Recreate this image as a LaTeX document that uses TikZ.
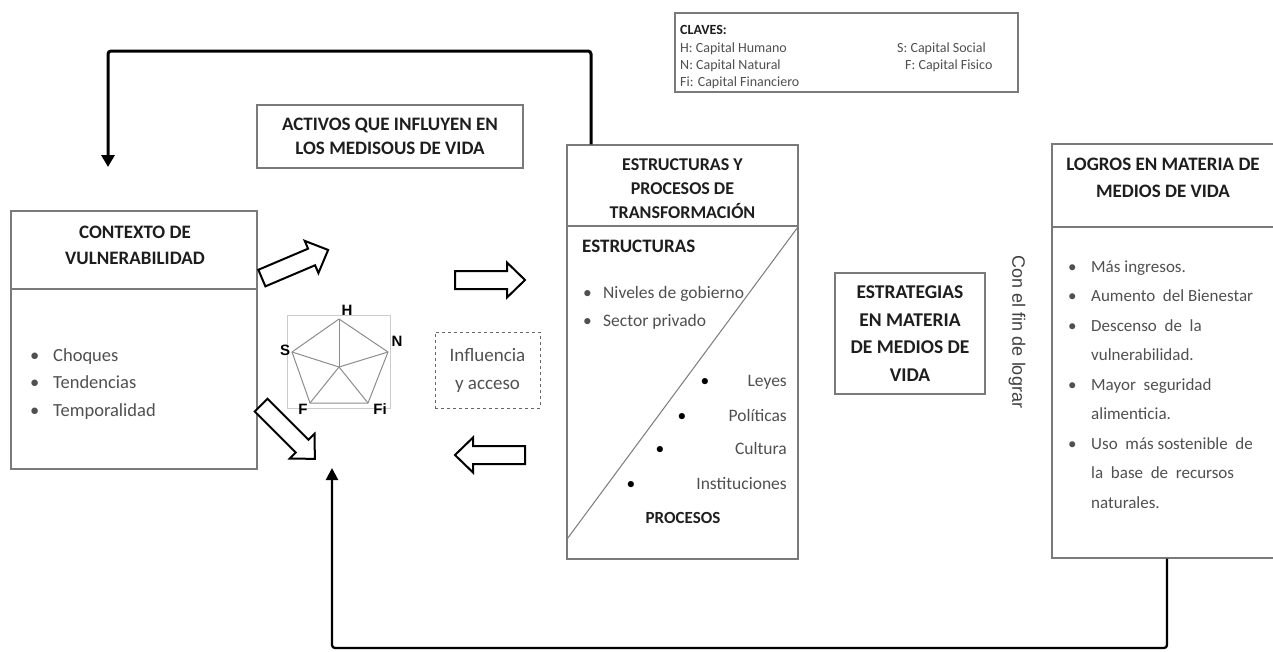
\documentclass[tikz,border=0pt]{standalone}
\usepackage{fontspec}
\setmainfont{Carlito}
\newfontfamily\arialf{Liberation Sans}
\usetikzlibrary{arrows.meta,calc}
\definecolor{boxgray}{HTML}{7A7A7A}
\definecolor{txtdark}{HTML}{1E1E1E}
\definecolor{txtgray}{HTML}{505050}
\newcommand\bl{\makebox[23pt][l]{\textbullet}}
\newcommand\blb{\makebox[20pt][l]{\textbullet}}
\begin{document}
\begin{tikzpicture}[x=1pt,y=-1pt,
  box/.style={draw=boxgray, line width=1.3pt, fill=white, inner sep=0pt},
  boxline/.style={draw=boxgray, line width=1.3pt},
  ttl/.style={font=\fontsize{19}{24}\selectfont\bfseries, text=txtdark, align=center},
  bodyt/.style={font=\fontsize{18.5}{27.5}\selectfont, text=txtgray},
  blkst/.style={draw=black, line width=2pt, fill=white, line join=miter},
  pics/blockarr/.style={code={
    \path[blkst] (-#1,-9) -- ({#1-18},-9) -- ({#1-18},-17.5) -- (#1,0)
      -- ({#1-18},17.5) -- ({#1-18},9) -- (-#1,9) -- cycle;}},
  fb/.style={draw=black, line width=3pt, rounded corners=3pt},
  lbl/.style={font=\arialf\bfseries\fontsize{15}{15}\selectfont, text=black, inner sep=0pt},
]
\useasboundingbox (0,0) rectangle (1273,651);

% ---------- CLAVES ----------
\node[box, minimum width=343pt, minimum height=79pt] (claves) at (846.5,52.5) {};
\node[anchor=base west, inner sep=0pt, font=\fontsize{14}{17}\selectfont\bfseries, text=txtdark] (clt) at (680,34) {CLAVES:};
\node[anchor=base west, inner sep=0pt, font=\fontsize{14}{17}\selectfont, text=txtgray, align=left] (cll) at (680,86)
  {H: Capital Humano\\N: Capital Natural\\Fi: Capital Financiero};
\node[anchor=base west, inner sep=0pt, font=\fontsize{14}{17}\selectfont, text=txtgray] (clr1) at (897,52) {S: Capital Social};
\node[anchor=base west, inner sep=0pt, font=\fontsize{14}{17}\selectfont, text=txtgray] (clr2) at (905,69) {F: Capital Fisico};

% ---------- CONTEXTO ----------
\node[box, minimum width=246pt, minimum height=258pt] (ctx) at (134,340) {};
\coordinate (cdiv) at (0,289);
\draw[boxline] (ctx.west |- cdiv) -- (ctx.east |- cdiv);
\node[ttl, font=\fontsize{19}{26}\selectfont\bfseries] (ctxt) at (135,245) {CONTEXTO DE\\VULNERABILIDAD};
\node[bodyt, anchor=base west, align=left, inner sep=0pt] (ctxl) at (30,416)
  {\bl Choques\\\bl Tendencias\\\bl Temporalidad};

% ---------- ACTIVOS ----------
\node[box, ttl, minimum width=266pt, minimum height=63pt] (activos) at (390,136.5)
  {ACTIVOS QUE INFLUYEN EN\\LOS MEDISOUS DE VIDA};

% ---------- pentagon ----------
\coordinate (pC) at (339,367);
\coordinate (pH) at (339,319);
\coordinate (pN) at (388,352);
\coordinate (pFi) at (368,403);
\coordinate (pF) at (310,403);
\coordinate (pS) at (292,352);
\draw[draw=black!20, line width=0.8pt] (287,315) rectangle (390,408);
\draw[draw=black!45, line width=1pt, line join=round] (pH) -- (pN) -- (pFi) -- (pF) -- (pS) -- cycle;
\foreach \p in {pH,pN,pFi,pF,pS} \draw[draw=black!45, line width=1pt] (pC) -- (\p);
\node[lbl] (lH) at (347,310) {H};
\node[lbl] (lN) at (397,341) {N};
\node[lbl] (lFi) at (380,409) {Fi};
\node[lbl] (lF) at (303,409) {F};
\node[lbl] (lS) at (285,350) {S};

% ---------- Influencia ----------
\node[draw=black!60, dashed, line width=1pt, minimum width=105pt, minimum height=76pt, inner sep=0pt,
  font=\fontsize{19}{28}\selectfont, text=txtgray, align=center] (infl) at (487.5,370) {Influencia\\y acceso};

% ---------- block arrows ----------
\pic (a1) [rotate=23] at (295,264) {blockarr=36};
\pic (a2) at (490,280) {blockarr=35};
\pic (a3) [rotate=180] at (490,455) {blockarr=35};
\pic (a4) [rotate=-45] at (288,432) {blockarr=38};

% ---------- ESTRUCTURAS ----------
\node[box, minimum width=231pt, minimum height=414pt] (struct) at (682.5,352) {};
\coordinate (sdiv) at (0,226);
\coordinate (sdiag) at (0,540);
\draw[boxline] (struct.west |- sdiv) -- (struct.east |- sdiv);
\draw[draw=boxgray, line width=1pt] (struct.east |- sdiv) -- (struct.west |- sdiag);
\node[ttl, font=\fontsize{18}{24}\selectfont\bfseries] (structt) at (682.5,189) {ESTRUCTURAS Y\\PROCESOS DE\\TRANSFORMACIÓN};
\node[anchor=base west, inner sep=0pt, font=\fontsize{19}{24}\selectfont\bfseries, text=txtdark] (esth) at (582,252) {ESTRUCTURAS};
\node[bodyt, font=\fontsize{17.5}{28}\selectfont, anchor=base west, align=left, inner sep=0pt] (estl) at (583,326)
  {\blb Niveles de gobierno\\\blb Sector privado};
\node[bodyt, font=\fontsize{17.5}{28}\selectfont, anchor=base east, inner sep=0pt] (p1) at (787,386) {Leyes};
\node[bodyt, font=\fontsize{17.5}{28}\selectfont, anchor=base east, inner sep=0pt] (p2) at (787,421) {Políticas};
\node[bodyt, font=\fontsize{17.5}{28}\selectfont, anchor=base east, inner sep=0pt] (p3) at (787,454) {Cultura};
\node[bodyt, font=\fontsize{17.5}{28}\selectfont, anchor=base east, inner sep=0pt] (p4) at (787,489) {Instituciones};
\node[bodyt, font=\fontsize{17.5}{28}\selectfont, text=black, anchor=base, inner sep=0pt] (b1) at (705,386) {\textbullet};
\node[bodyt, font=\fontsize{17.5}{28}\selectfont, text=black, anchor=base, inner sep=0pt] (b2) at (682,421) {\textbullet};
\node[bodyt, font=\fontsize{17.5}{28}\selectfont, text=black, anchor=base, inner sep=0pt] (b3) at (660,454) {\textbullet};
\node[bodyt, font=\fontsize{17.5}{28}\selectfont, text=black, anchor=base, inner sep=0pt] (b4) at (631,489) {\textbullet};
\node[ttl, font=\fontsize{17}{24}\selectfont\bfseries] (proc) at (683,518) {PROCESOS};

% ---------- ESTRATEGIAS ----------
\node[box, ttl, font=\fontsize{19.5}{27.5}\selectfont\bfseries, minimum width=150pt, minimum height=121pt] (estr) at (910,333.5)
  {ESTRATEGIAS\\EN MATERIA\\DE MEDIOS DE\\VIDA};
\node[rotate=-90, inner sep=0pt, font=\arialf\fontsize{18}{18}\selectfont, text=black!75] (confin) at (1017,332) {Con el fin de lograr};

% ---------- LOGROS ----------
\node[box, minimum width=300pt, minimum height=414pt] (logros) at (1202,351) {};
\coordinate (ldiv) at (0,227);
\draw[boxline] (logros.west |- ldiv) -- (logros.east |- ldiv);
\node[ttl, font=\fontsize{19}{27}\selectfont\bfseries] (logrost) at (1163,178) {LOGROS EN MATERIA DE\\MEDIOS DE VIDA};
\node[bodyt, font=\fontsize{17}{29.5}\selectfont, anchor=base west, align=left, inner sep=0pt] (logl) at (1068,508)
  {\bl Más ingresos.\\\bl Aumento\ \ del Bienestar\\\bl Descenso\ \ de\ \ la\\\hphantom{\bl}vulnerabilidad.\\\bl Mayor\ \ seguridad\\\hphantom{\bl}alimenticia.\\\bl Uso\ \ más sostenible\ \ de\\\hphantom{\bl}la\ \ base\ \ de\ \ recursos\\\hphantom{\bl}naturales.};

% ---------- feedback lines ----------
\coordinate (tA) at (591,51);
\coordinate (tB) at (108,51);
\coordinate (topin) at (108,167);
\draw[fb, -{Triangle[width=13pt,length=12pt]}] (struct.north -| tA) -- (tA) -- (tB) -- (topin);
\coordinate (bA) at (1167,648);
\coordinate (bB) at (332,648);
\coordinate (botin) at (332,468);
\draw[fb, line width=2.3pt, -{Triangle[width=12pt,length=12pt]}] (logros.south -| bA) -- (bA) -- (bB) -- (botin);
\end{tikzpicture}
\end{document}
